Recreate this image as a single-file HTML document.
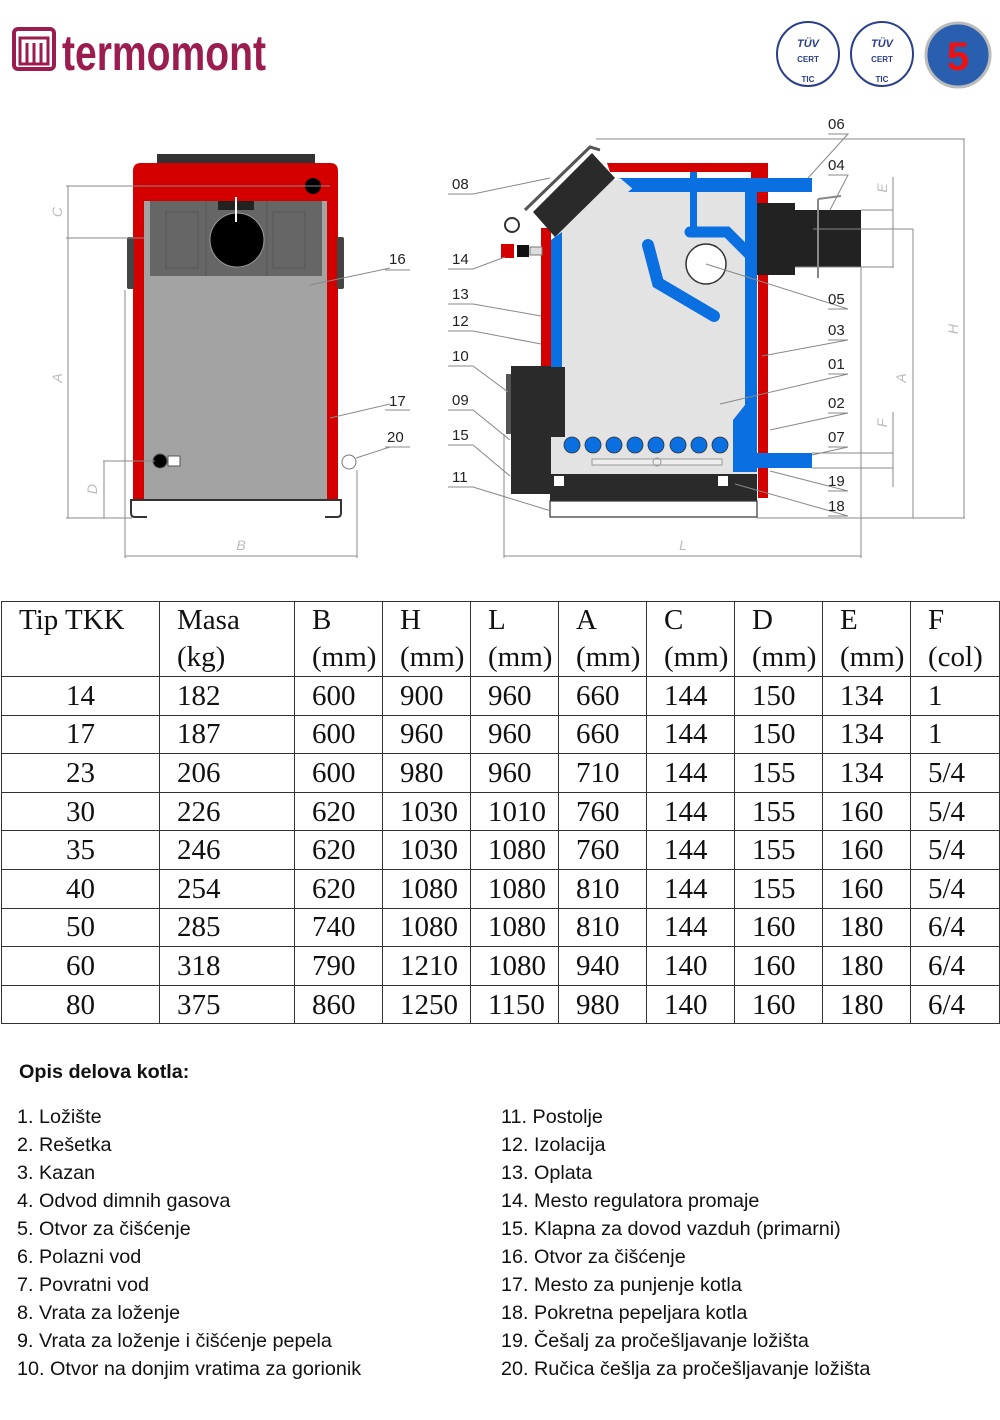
<!DOCTYPE html>
<html><head><meta charset="utf-8">
<style>
*{margin:0;padding:0;box-sizing:border-box}
body{width:1000px;height:1420px;background:#fff;position:relative;overflow:hidden;font-family:"Liberation Sans",sans-serif}
svg{position:absolute;left:0;top:0}
table{position:absolute;left:1px;top:601px;border-collapse:collapse;font-family:"Liberation Serif",serif;font-size:29px;color:#111}
td{border:1.5px solid #333;height:38.6px;padding:0 0 0 17px;line-height:30px;vertical-align:middle;white-space:nowrap}
tr.h td{height:74px;vertical-align:top;padding-top:0;line-height:37px}
td.c{text-align:center;padding:0}
.t{position:absolute;font-size:19.8px;color:#111;line-height:28px}
</style></head><body>
<svg width="1000" height="600" viewBox="0 0 1000 600" font-family="Liberation Sans,sans-serif">
<rect x="14" y="29" width="40" height="40" rx="4" fill="none" stroke="#9b1d4f" stroke-width="4"/>
<rect x="20" y="38" width="28" height="26" fill="none" stroke="#9b1d4f" stroke-width="3"/>
<path d="M27 43v21M34 43v21M41 43v21" stroke="#9b1d4f" stroke-width="3"/>
<text x="62" y="70" font-size="50" font-weight="bold" fill="#9b1d4f" textLength="204" lengthAdjust="spacingAndGlyphs" font-family="Liberation Sans Narrow,Liberation Sans,sans-serif">termomont</text>
<g font-size="8" font-weight="bold" text-anchor="middle">
<ellipse cx="808" cy="54" rx="31" ry="32" fill="#fff" stroke="#2a3e8c" stroke-width="2"/>
<text x="808" y="47" fill="#2a3e8c" font-size="11" font-style="italic">TÜV</text>
<text x="808" y="62" fill="#2a3e8c">CERT</text><text x="808" y="82" fill="#2a3e8c">TIC</text>
<ellipse cx="882" cy="54" rx="31" ry="32" fill="#fff" stroke="#2a3e8c" stroke-width="2"/>
<text x="882" y="47" fill="#2a3e8c" font-size="11" font-style="italic">TÜV</text>
<text x="882" y="62" fill="#2a3e8c">CERT</text><text x="882" y="82" fill="#2a3e8c">TIC</text>
<circle cx="958" cy="55" r="32" fill="#2a5fb0" stroke="#bbb" stroke-width="3"/>
<text x="958" y="70" fill="#e11" font-size="40" font-weight="bold">5</text>
</g>

<!-- LEFT FRONT VIEW -->
<rect x="157" y="154" width="158" height="10" fill="#333"/>
<path d="M133 500V171q0-8 8-8h189q8 0 8 8v329z" fill="#d40000"/>
<rect x="144" y="201" width="183" height="299" fill="#a3a3a3"/>
<rect x="150" y="201" width="172" height="75" fill="#666"/>
<rect x="166" y="212" width="32" height="56" fill="none" stroke="#555"/>
<rect x="273" y="212" width="32" height="56" fill="none" stroke="#555"/>
<line x1="206" y1="201" x2="206" y2="276" stroke="#555"/><line x1="267" y1="201" x2="267" y2="276" stroke="#555"/>
<rect x="218" y="201" width="36" height="9" fill="#222"/>
<circle cx="237" cy="240" r="27" fill="#000" stroke="#999"/>
<line x1="236" y1="197" x2="236" y2="222" stroke="#fff" stroke-width="2"/>
<circle cx="313" cy="186" r="8" fill="#000"/>
<rect x="127" y="237" width="7" height="52" rx="2" fill="#444"/>
<rect x="337" y="237" width="7" height="52" rx="2" fill="#444"/>
<path d="M147 517h-12q-4 0-4-4v-13h210v13q0 4-4 4h-12" fill="none" stroke="#333" stroke-width="2"/>
<circle cx="160" cy="461" r="7" fill="#000" stroke="#555"/>
<rect x="168" y="456" width="12" height="10" fill="#fff" stroke="#555"/>
<circle cx="349" cy="462" r="7" fill="#fff" stroke="#777"/>
<g stroke="#888" fill="none" stroke-width="1">
<path d="M66 186H330M66 238H144M66 518H132M103 461H155M103 518H132M125 290V558M357 470V558M125 556H357"/>
<path d="M68 186V518M104 461V518"/>
<path d="M330 418L390 404M310 285L390 268M356 458L390 447"/>
<path d="M385 270H410M385 410H410M385 447H410"/>
</g>
<g fill="#bbb" font-size="14" font-style="italic" text-anchor="middle">
<text x="58" y="216" transform="rotate(-90 58 212)">C</text>
<text x="58" y="382" transform="rotate(-90 58 378)">A</text>
<text x="93" y="493" transform="rotate(-90 93 489)">D</text>
<text x="241" y="550">B</text>
</g>

<!-- RIGHT SECTION VIEW -->
<path d="M607 163H768V498H758V268H751V172H610z" fill="#d40000"/>
<rect x="541" y="228" width="10" height="140" fill="#d40000"/>
<path d="M551 240L612 180H757V475H551z" fill="#e3e3e3"/>
<path d="M617 178H757V192H628L640 182z" fill="#0a6fe0"/>
<path d="M620 178L634 190H757V178z" fill="#0a6fe0"/>
<path d="M745 180H757V472H733V420L745 405z" fill="#0a6fe0"/>
<path d="M551 240L562 232V367H551z" fill="#0a6fe0"/>
<rect x="690" y="172" width="7" height="56" fill="#0a6fe0"/>
<path d="M690 232H727L752 257" fill="none" stroke="#0a6fe0" stroke-width="11" stroke-linecap="round"/>
<path d="M648 245L658 283L714 316" fill="none" stroke="#0a6fe0" stroke-width="12" stroke-linecap="round"/>
<rect x="757" y="178" width="55" height="14" fill="#0a6fe0"/>
<rect x="757" y="453" width="55" height="15" fill="#0a6fe0"/>
<circle cx="706" cy="264" r="20" fill="#fff" stroke="#333" stroke-width="1.5"/>
<path d="M533 212L592 153L615 178L555 237z" fill="#2a2a2a"/>
<path d="M525 210L590 147L600 150" fill="none" stroke="#555" stroke-width="3"/>
<circle cx="512" cy="225" r="7" fill="#fff" stroke="#333" stroke-width="2"/>
<rect x="501" y="244" width="13" height="14" fill="#d40000"/>
<rect x="517" y="245" width="12" height="12" fill="#111"/>
<rect x="530" y="247" width="12" height="8" fill="#ddd" stroke="#777"/>
<g fill="#0a6fe0" stroke="#333" stroke-width="0.8">
<circle cx="572" cy="445" r="8"/><circle cx="593" cy="445" r="8"/><circle cx="614" cy="445" r="8"/><circle cx="635" cy="445" r="8"/><circle cx="656" cy="445" r="8"/><circle cx="678" cy="445" r="8"/><circle cx="699" cy="445" r="8"/><circle cx="720" cy="445" r="8"/>
</g>
<rect x="592" y="459" width="130" height="6" fill="#eee" stroke="#999"/>
<circle cx="657" cy="462" r="4" fill="none" stroke="#999"/>
<rect x="511" y="366" width="40" height="128" fill="#2a2a2a"/>
<rect x="506" y="374" width="5" height="60" fill="#555"/>
<rect x="551" y="367" width="14" height="70" fill="#2a2a2a"/>
<rect x="550" y="474" width="207" height="27" fill="#2a2a2a"/>
<rect x="554" y="476" width="10" height="10" fill="#fff"/><rect x="718" y="476" width="10" height="10" fill="#fff"/>
<rect x="550" y="501" width="207" height="16" fill="#fff" stroke="#333" stroke-width="1.2"/>
<rect x="757" y="203" width="38" height="72" fill="#222"/>
<rect x="795" y="210" width="66" height="57" fill="#222"/>
<path d="M818 199V278M818 199L841 196" stroke="#888" stroke-width="2" fill="none"/>
<g stroke="#888" fill="none" stroke-width="1">
<path d="M448 194H473L550 178M448 269H473L505 257M448 304H473L541 316M448 331H473L541 344M448 366H473L508 392M448 410H473L510 440M448 445H473L510 476M448 487H473L551 511"/>
<path d="M828 134H848L808 178M828 175H848L830 210M828 309H848L706 264M828 340H848L762 356M828 374H848L720 404M828 413H848L770 430M828 447H848L812 455M828 491H848L770 471M828 516H848L735 484"/>
<path d="M596 139H965M861 210H893M795 267H893M813 229H913M812 453H893M812 468H893M757 518H965M504 434V558M861 267V558M504 556H861"/>
<path d="M893 177V268M893 412V487M913 229V518M964 139V518"/>
</g>
<g fill="#bbb" font-size="14" font-style="italic" text-anchor="middle">
<text x="883" y="192" transform="rotate(-90 883 188)">E</text>
<text x="883" y="427" transform="rotate(-90 883 423)">F</text>
<text x="902" y="382" transform="rotate(-90 902 378)">A</text>
<text x="954" y="333" transform="rotate(-90 954 329)">H</text>
<text x="683" y="550">L</text>
</g>
<g font-size="15" fill="#222">
<text x="452" y="189">08</text><text x="452" y="264">14</text><text x="452" y="299">13</text><text x="452" y="326">12</text><text x="452" y="361">10</text><text x="452" y="405">09</text><text x="452" y="440">15</text><text x="452" y="482">11</text>
<text x="828" y="129">06</text><text x="828" y="170">04</text><text x="828" y="304">05</text><text x="828" y="335">03</text><text x="828" y="369">01</text><text x="828" y="408">02</text><text x="828" y="442">07</text><text x="828" y="486">19</text><text x="828" y="511">18</text>
<text x="389" y="264">16</text><text x="389" y="406">17</text><text x="387" y="442">20</text>
</g>
</svg>

<table>
<colgroup><col style="width:158px"><col style="width:135px"><col style="width:88px"><col style="width:88px"><col style="width:88px"><col style="width:88px"><col style="width:88px"><col style="width:88px"><col style="width:88px"><col style="width:89px"></colgroup>
<tr class="h"><td>Tip TKK</td><td>Masa<br>(kg)</td><td>B<br>(mm)</td><td>H<br>(mm)</td><td>L<br>(mm)</td><td>A<br>(mm)</td><td>C<br>(mm)</td><td>D<br>(mm)</td><td>E<br>(mm)</td><td>F<br>(col)</td></tr>
<tr><td class="c">14</td><td>182</td><td>600</td><td>900</td><td>960</td><td>660</td><td>144</td><td>150</td><td>134</td><td>1</td></tr>
<tr><td class="c">17</td><td>187</td><td>600</td><td>960</td><td>960</td><td>660</td><td>144</td><td>150</td><td>134</td><td>1</td></tr>
<tr><td class="c">23</td><td>206</td><td>600</td><td>980</td><td>960</td><td>710</td><td>144</td><td>155</td><td>134</td><td>5/4</td></tr>
<tr><td class="c">30</td><td>226</td><td>620</td><td>1030</td><td>1010</td><td>760</td><td>144</td><td>155</td><td>160</td><td>5/4</td></tr>
<tr><td class="c">35</td><td>246</td><td>620</td><td>1030</td><td>1080</td><td>760</td><td>144</td><td>155</td><td>160</td><td>5/4</td></tr>
<tr><td class="c">40</td><td>254</td><td>620</td><td>1080</td><td>1080</td><td>810</td><td>144</td><td>155</td><td>160</td><td>5/4</td></tr>
<tr><td class="c">50</td><td>285</td><td>740</td><td>1080</td><td>1080</td><td>810</td><td>144</td><td>160</td><td>180</td><td>6/4</td></tr>
<tr><td class="c">60</td><td>318</td><td>790</td><td>1210</td><td>1080</td><td>940</td><td>140</td><td>160</td><td>180</td><td>6/4</td></tr>
<tr><td class="c">80</td><td>375</td><td>860</td><td>1250</td><td>1150</td><td>980</td><td>140</td><td>160</td><td>180</td><td>6/4</td></tr>
</table>

<div class="t" style="left:19px;top:1058px;font-weight:bold">Opis delova kotla:</div>
<div class="t" style="left:17px;top:1103px">1. Ložište<br>2. Rešetka<br>3. Kazan<br>4. Odvod dimnih gasova<br>5. Otvor za čišćenje<br>6. Polazni vod<br>7. Povratni vod<br>8. Vrata za loženje<br>9. Vrata za loženje i čišćenje pepela<br>10. Otvor na donjim vratima za gorionik</div>
<div class="t" style="left:501px;top:1103px">11. Postolje<br>12. Izolacija<br>13. Oplata<br>14. Mesto regulatora promaje<br>15. Klapna za dovod vazduh (primarni)<br>16. Otvor za čišćenje<br>17. Mesto za punjenje kotla<br>18. Pokretna pepeljara kotla<br>19. Češalj za pročešljavanje ložišta<br>20. Ručica češlja za pročešljavanje ložišta</div>
</body></html>
